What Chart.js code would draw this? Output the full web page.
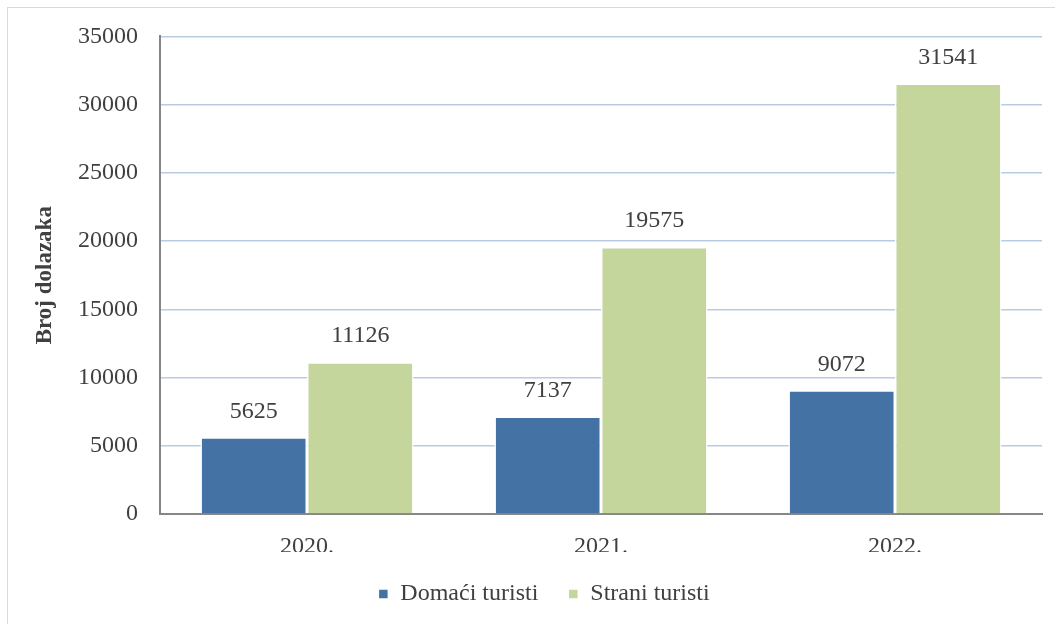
<!DOCTYPE html>
<html>
<head>
<meta charset="utf-8">
<script src="https://cdn.jsdelivr.net/npm/chart.js@4/dist/chart.umd.min.js"></script>
<style>
html,body{margin:0;padding:0;background:#fff;}
#wrap{position:relative;width:1055px;height:624px;}
#frame{position:absolute;left:7px;top:7px;width:1060px;height:630px;border-left:1px solid #d9d9d9;border-top:1px solid #d9d9d9;box-sizing:border-box;}
canvas{position:absolute;left:0;top:0;}
</style>
</head>
<body>
<div id="wrap"><div id="frame"></div><canvas id="c" width="1055" height="624"></canvas></div>
<script>
const categories = ['2020.', '2021.', '2022.'];
const domaci = [5625, 7137, 9072];
const strani = [11126, 19575, 31541];
const seriesNames = ['Domaći turisti', 'Strani turisti'];
const yTicks = [0, 5000, 10000, 15000, 20000, 25000, 30000, 35000];
const yTitle = 'Broj dolazaka';

const FONT = "'Liberation Serif', 'Times New Roman', serif";

const valueLabels = {
  id: 'valueLabels',
  afterDatasetsDraw(chart) {
    const ctx = chart.ctx;
    ctx.save();
    ctx.font = '24px ' + FONT;
    ctx.fillStyle = '#404040';
    ctx.textAlign = 'center';
    ctx.textBaseline = 'bottom';
    chart.data.datasets.forEach((ds, i) => {
      chart.getDatasetMeta(i).data.forEach((bar, j) => {
        ctx.fillText(String(ds.data[j]), bar.x, bar.y - 14);
      });
    });
    ctx.restore();
  }
};

new Chart(document.getElementById('c'), {
  type: 'bar',
  data: {
    labels: categories,
    datasets: [
      { label: seriesNames[0], data: domaci, backgroundColor: '#4472a5', borderColor: '#ffffff', borderWidth: 1.5, borderSkipped: 'bottom' },
      { label: seriesNames[1], data: strani, backgroundColor: '#c4d69b', borderColor: '#ffffff', borderWidth: 1.5, borderSkipped: 'bottom' }
    ]
  },
  options: {
    responsive: false,
    animation: false,
    devicePixelRatio: 1,
    layout: { padding: { top: 35, right: 13, bottom: 12, left: 46 } },
    datasets: { bar: { categoryPercentage: 0.725, barPercentage: 1 } },
    scales: {
      x: {
        grid: { display: false, drawTicks: false },
        border: { display: true, color: '#868686', width: 2 },
        ticks: { font: { family: FONT, size: 24 }, color: '#404040', padding: 18 },
        afterFit(s) { s.height = 38; }
      },
      y: {
        min: 0, max: 35000,
        afterBuildTicks(s) { s.ticks = yTicks.map(v => ({ value: v })); },
        grid: { color: '#b9cbe3', lineWidth: 1.5, drawTicks: false },
        border: { display: true, color: '#868686', width: 2 },
        ticks: { font: { family: FONT, size: 24 }, color: '#404040', padding: 22, callback: v => String(v) },
        title: { display: true, text: yTitle, font: { family: FONT, size: 23, weight: 'bold' }, color: '#404040', padding: { top: -15, bottom: 0 } },
        afterFit(s) { s.width = 114; }
      }
    },
    plugins: {
      legend: {
        position: 'bottom',
        maxHeight: 60,
        labels: { font: { family: FONT, size: 24 }, color: '#404040', boxWidth: 10, boxHeight: 10, padding: 30 }
      },
      tooltip: { enabled: false }
    }
  },
  plugins: [valueLabels]
});
</script>
</body>
</html>
